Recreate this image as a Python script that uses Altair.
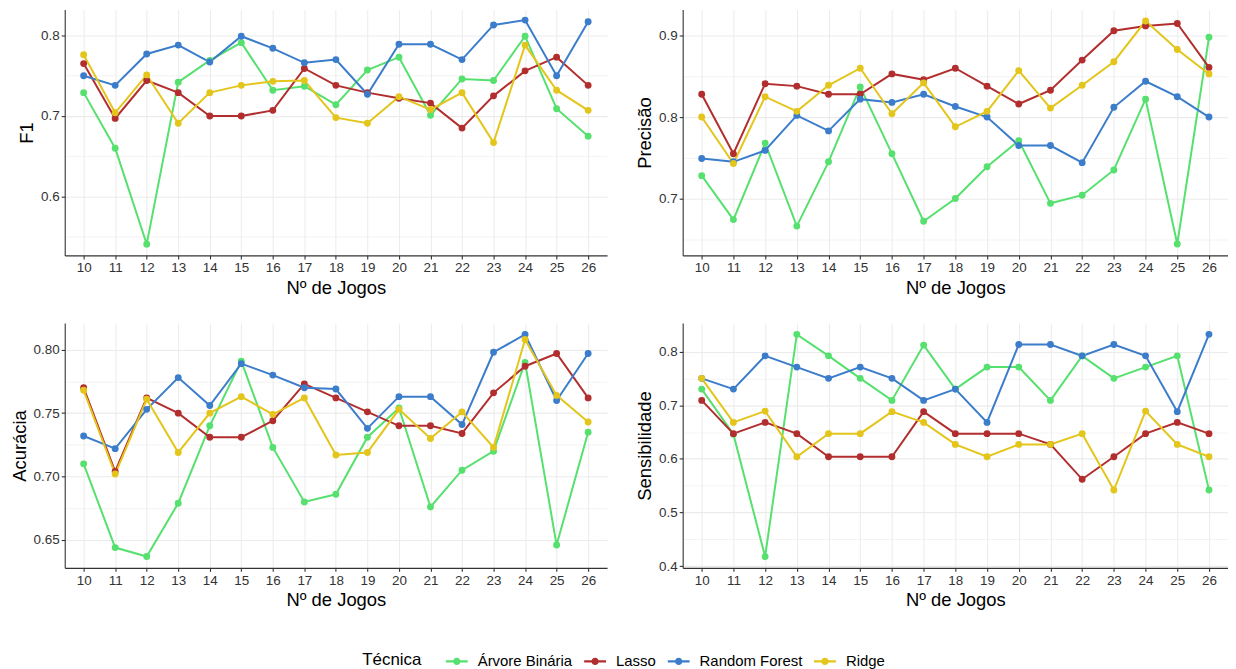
import altair as alt
import pandas as pd

jogos = list(range(10, 27))
tecnicas = ["Árvore Binária", "Lasso", "Random Forest", "Ridge"]
cores = ["#56E06E", "#B22E2E", "#3B7DCB", "#E3C51B"]

# F1
f1_arvore = [0.729, 0.660, 0.541, 0.742, 0.769, 0.791, 0.732, 0.737, 0.714, 0.757, 0.773, 0.701, 0.746, 0.744, 0.799, 0.709, 0.675]
f1_lasso = [0.765, 0.697, 0.744, 0.729, 0.700, 0.700, 0.707, 0.759, 0.738, 0.729, 0.722, 0.716, 0.685, 0.725, 0.756, 0.773, 0.738]
f1_rf = [0.750, 0.738, 0.777, 0.788, 0.767, 0.799, 0.784, 0.766, 0.770, 0.727, 0.789, 0.789, 0.770, 0.813, 0.819, 0.750, 0.817]
f1_ridge = [0.776, 0.704, 0.751, 0.691, 0.729, 0.738, 0.743, 0.744, 0.698, 0.691, 0.724, 0.708, 0.729, 0.667, 0.788, 0.732, 0.707]

# Precisão
prec_arvore = [0.728, 0.674, 0.768, 0.666, 0.745, 0.837, 0.755, 0.672, 0.700, 0.739, 0.771, 0.694, 0.704, 0.735, 0.822, 0.644, 0.898]
prec_lasso = [0.828, 0.755, 0.841, 0.838, 0.828, 0.828, 0.853, 0.846, 0.860, 0.838, 0.816, 0.833, 0.870, 0.906, 0.912, 0.915, 0.861]
prec_rf = [0.749, 0.745, 0.759, 0.802, 0.783, 0.822, 0.818, 0.828, 0.813, 0.800, 0.765, 0.765, 0.744, 0.812, 0.844, 0.825, 0.800]
prec_ridge = [0.800, 0.743, 0.825, 0.807, 0.839, 0.860, 0.804, 0.842, 0.788, 0.807, 0.857, 0.811, 0.839, 0.868, 0.918, 0.883, 0.853]

# Acurácia
acc_arvore = [0.710, 0.644, 0.637, 0.679, 0.740, 0.791, 0.723, 0.680, 0.686, 0.731, 0.754, 0.676, 0.705, 0.720, 0.790, 0.646, 0.735]
acc_lasso = [0.770, 0.704, 0.762, 0.750, 0.731, 0.731, 0.744, 0.773, 0.762, 0.751, 0.740, 0.740, 0.734, 0.766, 0.787, 0.797, 0.762]
acc_rf = [0.732, 0.722, 0.753, 0.778, 0.756, 0.789, 0.780, 0.770, 0.769, 0.738, 0.763, 0.763, 0.741, 0.798, 0.812, 0.760, 0.797]
acc_ridge = [0.768, 0.702, 0.761, 0.719, 0.750, 0.763, 0.749, 0.762, 0.717, 0.719, 0.753, 0.730, 0.751, 0.723, 0.808, 0.764, 0.743]

# Sensibilidade
sens_arvore = [0.730, 0.646, 0.418, 0.832, 0.792, 0.750, 0.709, 0.812, 0.730, 0.771, 0.771, 0.709, 0.792, 0.750, 0.771, 0.792, 0.542]
sens_lasso = [0.709, 0.647, 0.668, 0.647, 0.604, 0.604, 0.604, 0.688, 0.647, 0.647, 0.647, 0.627, 0.562, 0.604, 0.647, 0.668, 0.647]
sens_rf = [0.750, 0.730, 0.792, 0.771, 0.750, 0.771, 0.750, 0.709, 0.730, 0.668, 0.813, 0.813, 0.792, 0.813, 0.792, 0.688, 0.832]
sens_ridge = [0.750, 0.668, 0.689, 0.604, 0.647, 0.647, 0.688, 0.668, 0.627, 0.604, 0.627, 0.627, 0.647, 0.542, 0.689, 0.627, 0.604]

series = {
    "F1": [f1_arvore, f1_lasso, f1_rf, f1_ridge],
    "Precisão": [prec_arvore, prec_lasso, prec_rf, prec_ridge],
    "Acurácia": [acc_arvore, acc_lasso, acc_rf, acc_ridge],
    "Sensibilidade": [sens_arvore, sens_lasso, sens_rf, sens_ridge],
}

rows = []
for metric, lists in series.items():
    for tec, vals in zip(tecnicas, lists):
        for j, v in zip(jogos, vals):
            rows.append({"metric": metric, "jogos": j, "tecnica": tec, "valor": v})
df = pd.DataFrame(rows)

FONT = "Liberation Sans"

legend_path = ("M-1,-0.1L1,-0.1L1,0.1L-1,0.1Z "
               "M0.33,0A0.33,0.33,0,1,1,-0.33,0A0.33,0.33,0,1,1,0.33,0Z")


def panel(metric, domain, major, minor, fmt, width, height):
    d = df[df.metric == metric]
    step = round(major[1] - major[0], 4)
    test = f"abs(datum.value/{step} - round(datum.value/{step})) > 0.01"
    yaxis = alt.Axis(
        values=sorted(major + minor),
        title=metric,
        labelExpr=f"{test} ? '' : format(datum.value, '{fmt}')",
        gridWidth={"condition": {"test": test, "value": 0.6}, "value": 1.1},
        tickOpacity={"condition": {"test": test, "value": 0}, "value": 1},
    )
    xaxis = alt.Axis(values=jogos, format="d", title="Nº de Jogos")
    color = alt.Color(
        "tecnica:N",
        scale=alt.Scale(domain=tecnicas, range=cores),
        legend=alt.Legend(
            title="Técnica",
            orient="none",
            legendX=299,
            legendY=644,
            direction="horizontal",
            titleOrient="left",
            symbolType=legend_path,
            symbolSize=484,
            symbolStrokeWidth=0,
            columnPadding=11,
            labelOffset=10,
            titlePadding=24,
        ),
    )
    base = alt.Chart(d).encode(
        x=alt.X("jogos:Q", scale=alt.Scale(domain=[9.4, 26.6], nice=False, zero=False), axis=xaxis),
        y=alt.Y("valor:Q", scale=alt.Scale(domain=domain, nice=False, zero=False), axis=yaxis),
        color=color,
        detail="tecnica:N",
    )
    lines = base.mark_line(strokeWidth=2)
    pts = base.mark_circle(size=48, opacity=1)
    return alt.layer(lines, pts).properties(width=width, height=height)


p1 = panel("F1", [0.527, 0.832], [0.6, 0.7, 0.8], [0.55, 0.65, 0.75], ".1f", 545, 247)
p2 = panel("Precisão", [0.630, 0.932], [0.7, 0.8, 0.9], [0.65, 0.75, 0.85], ".1f", 548, 247)
p3 = panel("Acurácia", [0.628, 0.821], [0.65, 0.70, 0.75, 0.80], [0.675, 0.725, 0.775], ".2f", 545, 246)
p4 = panel("Sensibilidade", [0.397, 0.853], [0.4, 0.5, 0.6, 0.7, 0.8], [0.45, 0.55, 0.65, 0.75], ".1f", 548, 246)

chart = alt.vconcat(
    alt.hconcat(p1, p2, spacing=28),
    alt.hconcat(p3, p4, spacing=28),
    spacing=26,
).properties(
    padding={"left": 2, "top": 0, "right": 0, "bottom": 0},
).configure_view(
    stroke=None
).configure_axis(
    labelFont=FONT,
    titleFont=FONT,
    labelFontSize=13.5,
    labelColor="#333333",
    titleFontSize=18.5,
    titleFontWeight="normal",
    titleColor="#000000",
    domainColor="#333333",
    domainWidth=1.1,
    tickColor="#333333",
    tickSize=3.5,
    tickWidth=1.1,
    gridColor="#EBEBEB",
    labelPadding=2,
    titlePadding=4,
).configure_legend(
    labelFont=FONT,
    titleFont=FONT,
    labelFontSize=15,
    titleFontSize=17,
    titleFontWeight="normal",
    labelColor="#000000",
    titleColor="#000000",
)

chart.save("out.html", embed_options={"renderer": "svg", "actions": False})
